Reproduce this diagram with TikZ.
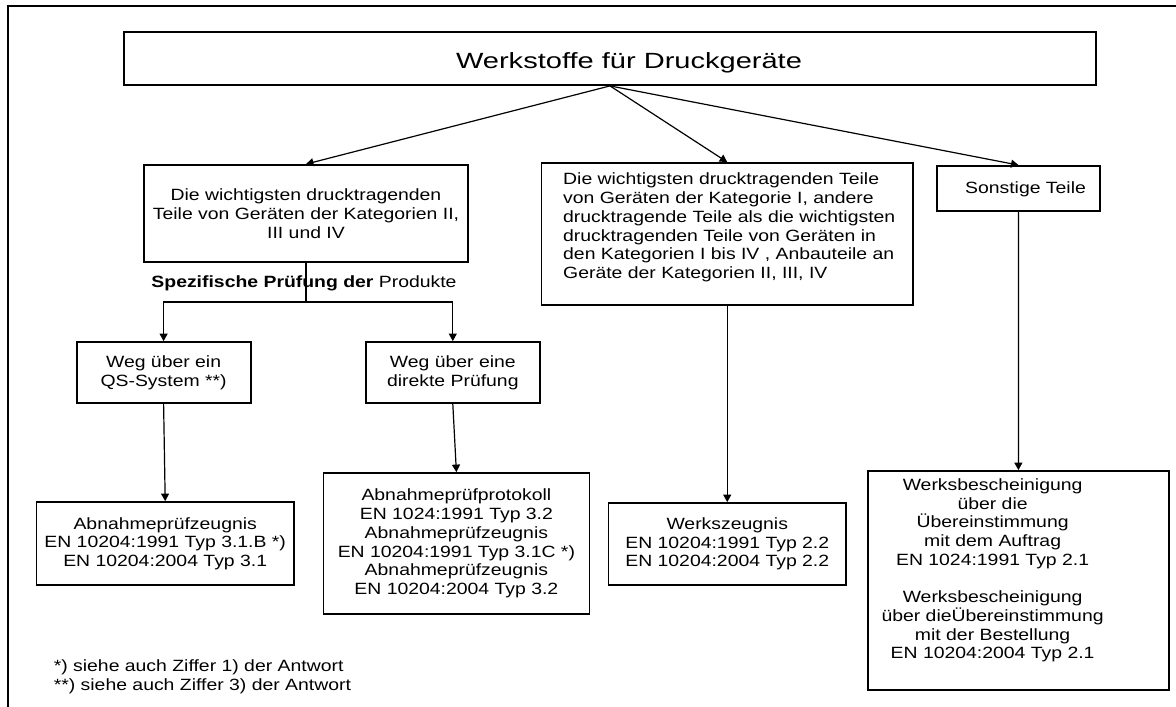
\documentclass[tikz,border=0pt]{standalone}
\usepackage{fontspec}
\setmainfont{Liberation Sans}[FakeStretch=1.19]
\newfontfamily\titlefont{Liberation Sans}[FakeStretch=1.32]
\usetikzlibrary{arrows.meta}
\begin{document}
\begin{tikzpicture}[x=1pt,y=-1pt,
  every node/.style={font=\fontsize{16.3}{18.7}\selectfont},
  box/.style={draw,line width=1.8pt,inner sep=0pt,align=center},
  txt/.style={inner sep=0pt,align=center},
  conn/.style={line width=1.2pt},
  arr/.style={conn,-{Triangle[length=7.5pt,width=8pt]}}]
\useasboundingbox (0,0) rectangle (1176,707);
\fill[white] (0,0) rectangle (1176,707);
% outer frame (cut off at right and bottom)
\draw[line width=2pt] (8.4,720) -- (8.4,6) -- (1190,6);
% title
\node[box,minimum width=972pt,minimum height=53pt] (T) at (610,58.5) {};
\node[txt,anchor=base,font=\titlefont\fontsize{22}{26}\selectfont] (Tt) at (629,68.6) {Werkstoffe für Druckgeräte};
% second level
\node[box,minimum width=324pt,minimum height=97pt] (A) at (306,213.5)
  {Die wichtigsten drucktragenden\\Teile von Geräten der Kategorien II,\\III und IV};
\node[box,minimum width=371.5pt,minimum height=142pt] (B) at (727.25,234) {};
\node[txt,align=left,anchor=west] (Bt) at (563,227.5)
  {Die wichtigsten drucktragenden Teile\\von Geräten der Kategorie I, andere\\drucktragende Teile als die wichtigsten\\drucktragenden Teile von Geräten in\\den Kategorien I bis IV , Anbauteile an\\Geräte der Kategorien II, III, IV};
\node[box,minimum width=163pt,minimum height=45pt] (S) at (1018.5,188.5) {};
\node[txt] (St) at (1025.5,189) {Sonstige Teile};
% label
\node[txt] (L) at (304,283.5) {\textbf{Spezifische Prüfung der} Produkte};
% third level
\node[box,minimum width=174pt,minimum height=61pt] (C) at (163.6,372.5)
  {Weg über ein\\QS-System **)};
\node[box,minimum width=173.6pt,minimum height=61pt] (D) at (452.8,372.5)
  {Weg über eine\\direkte Prüfung};
% bottom level
\node[box,minimum width=257.6pt,minimum height=83pt] (E) at (165.2,543.5)
  {Abnahmeprüfzeugnis\\EN 10204:1991 Typ 3.1.B *)\\EN 10204:2004 Typ 3.1};
\node[box,minimum width=266pt,minimum height=141pt] (F) at (456.4,543.5)
  {Abnahmeprüfprotokoll\\EN 1024:1991 Typ 3.2\\Abnahmeprüfzeugnis\\EN 10204:1991 Typ 3.1C *)\\Abnahmeprüfzeugnis\\EN 10204:2004 Typ 3.2};
\node[box,minimum width=237.5pt,minimum height=82pt] (G) at (727.25,544)
  {Werkszeugnis\\EN 10204:1991 Typ 2.2\\EN 10204:2004 Typ 2.2};
\node[box,minimum width=301.3pt,minimum height=219pt] (H) at (1018.4,580.5) {};
\node[txt] (Ht) at (992.6,570.5)
  {Werksbescheinigung\\über die\\Übereinstimmung\\mit dem Auftrag\\EN 1024:1991 Typ 2.1\\[18.7pt]Werksbescheinigung\\über dieÜbereinstimmung\\mit der Bestellung\\EN 10204:2004 Typ 2.1};
% footnotes
\node[txt,align=left,anchor=west] (N) at (53.6,676.5)
  {*) siehe auch Ziffer 1) der Antwort\\**) siehe auch Ziffer 3) der Antwort};
% connectors
\draw[arr] (T.south) -- (A.north);
\draw[arr] (T.south) -- (B.north);
\draw[arr] (T.south) -- (S.north);
\coordinate (J) at (306,302);
\draw[conn] (A.south) -- (J);
\draw[arr] (J) -| (C.north);
\draw[arr] (J) -| (D.north);
\draw[arr] (C.south) -- (E.north);
\draw[arr] (D.south) -- (F.north);
\draw[arr] (B.south) -- (G.north);
\draw[arr] (S.south) -- (H.north);
\end{tikzpicture}
\end{document}
